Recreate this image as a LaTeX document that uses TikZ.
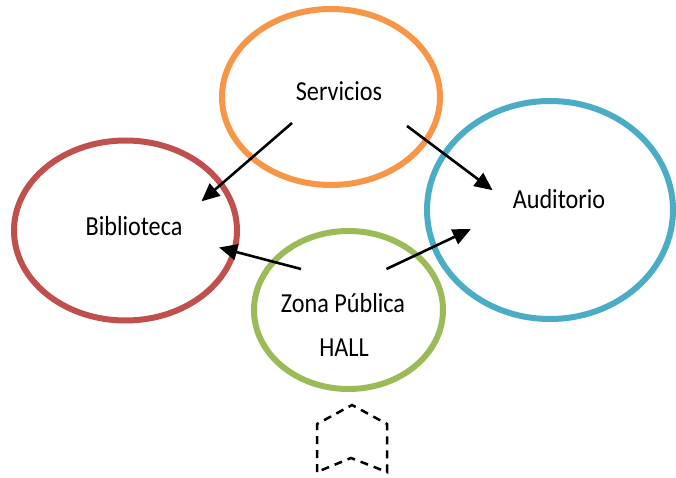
\documentclass[tikz,border=0pt]{standalone}
\usepackage{fontspec}
\setmainfont{Carlito}[FakeStretch=0.88]
\usetikzlibrary{
    arrows.meta,
    shapes.geometric
}

\definecolor{ringorange}{HTML}{F79646}
\definecolor{ringred}{HTML}{C0504D}
\definecolor{ringblue}{HTML}{4BACC6}
\definecolor{ringgreen}{HTML}{9BBB59}

\tikzset{
    ring/.style={draw=#1, ellipse, line width=6pt, inner sep=0pt, outer sep=0pt},
    lbl/.style={font=\fontsize{27.5}{30}\selectfont, inner sep=0pt, anchor=base},
    link/.style={-{Triangle[length=18pt,width=16pt]}, line width=2.6pt, shorten >=-2pt}
}

\begin{document}
\begin{tikzpicture}[x=1pt,y=-1pt]
\useasboundingbox (0,0) rectangle (676,478);

% Rings
\node[ring=ringorange, minimum width=218pt, minimum height=176pt] (servring) at (331,97) {};
\node[ring=ringred, minimum width=223pt, minimum height=180pt] (biblring) at (125.5,230.5) {};
\node[ring=ringblue, minimum width=246pt, minimum height=218pt] (audring) at (550,210) {};
\node[ring=ringgreen, minimum width=189pt, minimum height=158pt] (zonaring) at (348.5,310) {};

% Labels
\node[lbl] (serv) at (339,101) {Servicios};
\node[lbl] (bibl) at (134,235.5) {Biblioteca};
\node[lbl] (aud) at (559,208) {Auditorio};
\node[lbl] (zona) at (343,312) {Zona Pública};
\node[lbl] (hall) at (344,356.5) {HALL};

% Arrow ends
\coordinate (s1) at (292,123);
\coordinate (b1) at (203,200);
\coordinate (s2) at (407,126);
\coordinate (a1) at (491,189);
\coordinate (z1) at (301,269);
\coordinate (b2) at (221,248);
\coordinate (z2) at (386.5,269);
\coordinate (a2) at (469,230);

\draw[link] (s1) -- (b1);
\draw[link] (s2) -- (a1);
\draw[link] (z1) -- (b2);
\draw[link] (z2) -- (a2);

% Entrance mark
\draw[line width=2.5pt, dash pattern=on 8pt off 6pt]
    (317,472) -- (317,424) -- (352,405) -- (387,424) -- (387,472) -- (351,458) -- cycle;

\end{tikzpicture}
\end{document}
